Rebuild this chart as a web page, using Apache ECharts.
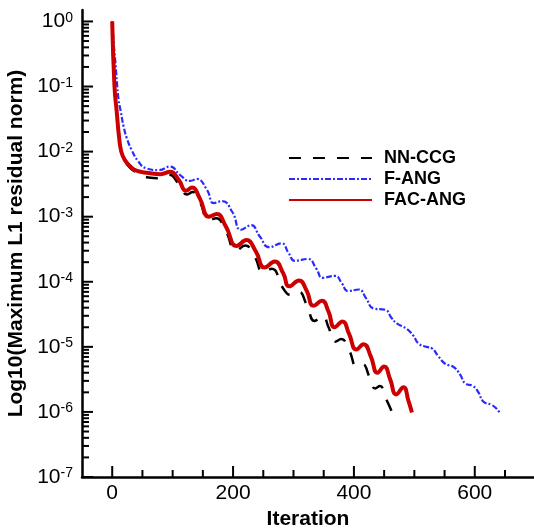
<!DOCTYPE html>
<html><head><meta charset="utf-8">
<script src="https://cdn.jsdelivr.net/npm/echarts@6/dist/echarts.min.js"></script>
<style>html,body{margin:0;padding:0;background:#fff}#c{width:534px;height:529px}</style>
</head><body><div id="c"></div>
<script>
const seriesNames = ['NN-CCG', 'F-ANG', 'FAC-ANG'];

const nnccgIter = [0,3.8,7.7,11,15,21,30,40,60,78,94,110,124,133,145,160,172,188,205,220,236,250,264,283,295,308,322,335,348,358,369,379,392,405,414,426,435,443,453,463];
const nnccgNorm = [1,0.1,0.039,0.0178,0.0098,0.0072,0.0056,0.0048,0.0040,0.0039,0.0044,0.0032,0.0022,0.0024,0.0017,8.7e-4,9.5e-4,6.0e-4,3.0e-4,3.6e-4,2.4e-4,1.38e-4,1.58e-4,7.9e-5,6.3e-5,7.1e-5,4.4e-5,2.5e-5,3.0e-5,2.0e-5,1.2e-5,1.32e-5,8.9e-6,5.0e-6,5.4e-6,3.4e-6,2.3e-6,2.5e-6,1.6e-6,1.0e-6];

const fangIter = [0,3,5,7.7,10.5,14,19,24,32,43,57,77,96,112,129,140,157,168,182,199,213,230,244,260,280,292,302,324,338,348,369,380,390,408,420,432,452,462,471,487,498,507,520,529,540,551,565,576,584,597,606,614,627,634,641];
const fangNorm = [1,0.4,0.25,0.12,0.063,0.042,0.024,0.0162,0.0107,0.0071,0.0055,0.0052,0.0059,0.0044,0.00355,0.0038,0.00257,0.00162,0.00174,0.00117,6.3e-4,7.4e-4,5.0e-4,3.4e-4,3.9e-4,2.75e-4,2.1e-4,2.24e-4,1.58e-4,1.15e-4,1.23e-4,9.5e-5,7.2e-5,7.6e-5,5.6e-5,3.9e-5,3.7e-5,2.8e-5,2.3e-5,1.9e-5,1.5e-5,1.12e-5,1.0e-5,9.5e-6,7.1e-6,5.5e-6,4.9e-6,3.7e-6,2.75e-6,2.5e-6,2.0e-6,1.45e-6,1.29e-6,1.17e-6,9.8e-7];

const facIter = [0,3.8,7.7,11,15,21,30,40,60,80,96,110,122,132,145,160,173,188,206,222,238,252,269,283,293,309,322,333,347,358,368,381,392,404,416,428,439,450,460,470,482,490,496];
const facNorm = [1,0.1,0.0389,0.0178,0.01,0.0074,0.0059,0.0051,0.0047,0.0045,0.0049,0.0037,0.0025,0.0028,0.0019,0.001,0.0011,7.1e-4,3.55e-4,4.37e-4,2.88e-4,1.66e-4,2.04e-4,1.35e-4,8.5e-5,1.05e-4,7.2e-5,4.27e-5,5.1e-5,3.47e-5,2.0e-5,2.45e-5,1.58e-5,9.1e-6,1.1e-5,7.1e-6,4.0e-6,5.0e-6,3.16e-6,1.86e-6,2.4e-6,1.51e-6,9.8e-7];

const X_MIN = -50, X_MAX = 698, Y_MIN = 1e-7, Y_MAX = 1.5;
const xMajorTicks = [0, 200, 400, 600];
const xMinorTicks = [50, 100, 150, 250, 300, 350, 450, 500, 550, 650];
const yMajorTicks = [1e-7, 1e-6, 1e-5, 1e-4, 1e-3, 1e-2, 1e-1, 1];
const yMinorTicks = [];
for (let d = -7; d < 0; d++) {
  for (let k = 2; k <= 9; k++) yMinorTicks.push(+(k * Math.pow(10, d)).toPrecision(3));
}

const FONT = 'Liberation Sans';
const zip = (a, b) => a.map((v, i) => [v, b[i]]);

// tick marks drawn through the axes' own scales (api.coord)
function tickSeries(values, isX, len) {
  return {
    type: 'custom', silent: true, clip: false, z: 1,
    data: values.map(v => isX ? [v, Y_MIN] : [X_MIN, v]),
    renderItem: function (params, api) {
      const p = api.coord([api.value(0), api.value(1)]);
      const shape = isX
        ? {x1: p[0], y1: p[1], x2: p[0], y2: p[1] - len}
        : {x1: p[0], y1: p[1], x2: p[0] + len, y2: p[1]};
      return {type: 'line', shape: shape, style: {stroke: '#000', lineWidth: 2}};
    }
  };
}

const chart = echarts.init(document.getElementById('c'));
chart.setOption({
  animation: false,
  backgroundColor: '#fff',
  textStyle: {fontFamily: FONT},
  grid: {left: 82, top: 10, right: 0, bottom: 52, containLabel: false, outerBoundsMode: 'none'},
  legend: {
    data: seriesNames,
    orient: 'vertical',
    left: 283, top: 144,
    itemWidth: 83, itemHeight: 12, itemGap: 3,
    itemStyle: {opacity: 0},
    textStyle: {fontSize: 18, fontWeight: 'bold', color: '#000', padding: [0, 0, 0, 7], lineHeight: 18}
  },
  xAxis: {
    type: 'value', min: X_MIN, max: X_MAX, position: 'bottom',
    axisLine: {onZero: false, lineStyle: {color: '#000', width: 2.5}},
    axisTick: {show: false},
    axisLabel: {customValues: xMajorTicks, fontSize: 21, color: '#000', margin: 6},
    splitLine: {show: false},
    name: 'Iteration', nameLocation: 'middle', nameGap: 27,
    nameTextStyle: {fontSize: 21, fontWeight: 'bold', color: '#000'}
  },
  yAxis: {
    type: 'log', logBase: 10, min: Y_MIN, max: Y_MAX, position: 'left',
    axisLine: {onZero: false, lineStyle: {color: '#000', width: 2.5}},
    axisTick: {show: false},
    axisLabel: {
      customValues: yMajorTicks, margin: 9, color: '#000',
      formatter: function (v) {
        const e = Math.round(Math.log10(v));
        return '{b|10}{s|' + e + '}';
      },
      rich: {
        b: {fontSize: 21, color: '#000', lineHeight: 21, verticalAlign: 'middle'},
        s: {fontSize: 14, color: '#000', lineHeight: 14, verticalAlign: 'top'}
      }
    },
    splitLine: {show: false},
    name: 'Log10(Maximum L1 residual norm)', nameLocation: 'middle', nameRotate: 90, nameGap: 50,
    nameTextStyle: {fontSize: 21, fontWeight: 'bold', color: '#000'}
  },
  series: [
    tickSeries(xMajorTicks, true, 11),
    tickSeries(xMinorTicks, true, 7),
    tickSeries(yMajorTicks, false, 11),
    tickSeries(yMinorTicks, false, 7),
    {
      name: seriesNames[0], type: 'line',
      data: zip(nnccgIter, nnccgNorm), symbol: 'none', smooth: 0.5,
      lineStyle: {color: '#000', width: 2.5, type: [12, 12]}, itemStyle: {color: '#000'}
    }, {
      name: seriesNames[1], type: 'line',
      data: zip(fangIter, fangNorm), symbol: 'none', smooth: 0.5,
      lineStyle: {color: '#2b2bff', width: 2.2, type: [6, 2, 2, 2]}, itemStyle: {color: '#2b2bff'}
    }, {
      name: seriesNames[2], type: 'line',
      data: zip(facIter, facNorm), symbol: 'none', smooth: 0.5,
      lineStyle: {color: '#cc0000', width: 4, type: 'solid'}, itemStyle: {color: '#cc0000'}
    }
  ]
});
</script></body></html>
